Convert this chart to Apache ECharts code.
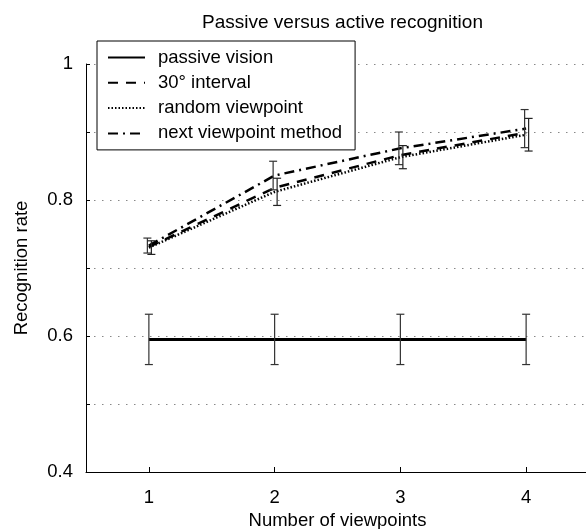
<!DOCTYPE html>
<html>
<head>
<meta charset="utf-8">
<script src="https://cdn.jsdelivr.net/npm/echarts@6/dist/echarts.min.js"></script>
<style>
html,body{margin:0;padding:0;background:#fff;}
#chart{width:586px;height:529px;}
</style>
</head>
<body>
<div id="chart"></div>
<script>
// ---- data ----
var viewpoints = [1, 2, 3, 4];
var passiveVision = [0.595, 0.595, 0.595, 0.595];
var passiveErr = [0.037, 0.037, 0.037, 0.037];
var interval30 = [0.731, 0.818, 0.866, 0.899];
var randomViewpoint = [0.730, 0.812, 0.863, 0.896];
var randomErr = [0.010, 0.020, 0.017, 0.024];
var nextViewpoint = [0.733, 0.836, 0.876, 0.905];
var nextErr = [0.011, 0.021, 0.024, 0.028];
var xTickLabels = [1, 2, 3, 4];
var yTickLabels = [0.4, 0.6, 0.8, 1];
var seriesNames = ['passive vision', '30\u00b0 interval', 'random viewpoint', 'next viewpoint method'];

function pairs(xs, ys) { return xs.map(function (x, i) { return [x, ys[i]]; }); }
function errData(xs, ys, es) { return xs.map(function (x, i) { return [x, ys[i] - es[i], ys[i] + es[i]]; }); }

function errorBarSeries(data, dx, color) {
  return {
    type: 'custom',
    silent: true,
    z: 5,
    data: data,
    renderItem: function (params, api) {
      var lo = api.coord([api.value(0), api.value(1)]);
      var hi = api.coord([api.value(0), api.value(2)]);
      var x = lo[0] + dx;
      var cap = 4;
      var st = { stroke: color, lineWidth: 1.2 };
      return {
        type: 'group',
        children: [
          { type: 'line', shape: { x1: x, y1: lo[1], x2: x, y2: hi[1] }, style: st },
          { type: 'line', shape: { x1: x - cap, y1: lo[1], x2: x + cap, y2: lo[1] }, style: st },
          { type: 'line', shape: { x1: x - cap, y1: hi[1], x2: x + cap, y2: hi[1] }, style: st }
        ]
      };
    }
  };
}

var chart = echarts.init(document.getElementById('chart'), null, { renderer: 'canvas' });
var font = 'Liberation Sans, Arial, sans-serif';
var fs = 18.5;
chart.setOption({
  animation: false,
  backgroundColor: '#ffffff',
  textStyle: { fontFamily: font },
  title: {
    text: 'Passive versus active recognition',
    left: 337.5,
    textAlign: 'center',
    top: 8,
    textStyle: { fontFamily: font, fontSize: 19, fontWeight: 'normal', color: '#000' }
  },
  grid: { left: 86, top: 64, width: 503, height: 408, outerBoundsMode: 'none', containLabel: false },
  legend: {
    data: seriesNames,
    orient: 'vertical',
    left: 97,
    top: 41,
    padding: [7, 13, 7, 10],
    itemGap: 6.3,
    itemWidth: 37,
    itemHeight: 18,
    borderColor: '#000',
    borderWidth: 1,
    borderRadius: 0,
    backgroundColor: '#fff',
    itemStyle: { opacity: 0 },
    textStyle: { fontFamily: font, fontSize: fs, lineHeight: 18, color: '#000', padding: [0, 0, 0, 8] },
    inactiveColor: '#000'
  },
  xAxis: {
    type: 'value',
    min: 0.5,
    max: 4.5,
    interval: 0.5,
    name: 'Number of viewpoints',
    nameLocation: 'middle',
    nameGap: 39,
    nameTextStyle: { fontFamily: font, fontSize: fs, color: '#000' },
    axisLine: { show: true, lineStyle: { color: '#000', width: 1 } },
    axisTick: { show: true, inside: true, length: 5, customValues: xTickLabels, lineStyle: { color: '#000' } },
    axisLabel: { customValues: xTickLabels, fontFamily: font, fontSize: fs, color: '#000', margin: 16 },
    splitLine: { show: false }
  },
  yAxis: {
    type: 'value',
    min: 0.4,
    max: 1,
    interval: 0.1,
    name: 'Recognition rate',
    nameLocation: 'middle',
    nameGap: 55,
    nameTextStyle: { fontFamily: font, fontSize: fs, color: '#000' },
    axisLine: { show: true, lineStyle: { color: '#000', width: 1 } },
    axisTick: { show: true, inside: true, length: 4, lineStyle: { color: '#000' } },
    axisLabel: {
      customValues: yTickLabels,
      fontFamily: font, fontSize: fs, color: '#000', margin: 13,
      formatter: function (v) { return Math.abs(v - 1) < 1e-9 ? '1' : v.toFixed(1); }
    },
    splitLine: { show: true, lineStyle: { color: '#888', width: 1, type: [1.5, 6.5] } }
  },
  series: [
    {
      name: seriesNames[0], type: 'line', data: pairs(viewpoints, passiveVision),
      symbol: 'none', color: '#000', z: 4,
      lineStyle: { color: '#000', width: 3, type: 'solid' }
    },
    {
      name: seriesNames[1], type: 'line', data: pairs(viewpoints, interval30),
      symbol: 'none', color: '#000', z: 4,
      lineStyle: { color: '#000', width: 2.5, type: [10, 8] }
    },
    {
      name: seriesNames[2], type: 'line', data: pairs(viewpoints, randomViewpoint),
      symbol: 'none', color: '#000', z: 4,
      lineStyle: { color: '#000', width: 2.5, type: [1.5, 2] }
    },
    {
      name: seriesNames[3], type: 'line', data: pairs(viewpoints, nextViewpoint),
      symbol: 'none', color: '#000', z: 4,
      lineStyle: { color: '#000', width: 2.5, type: [10, 5, 2, 5] }
    },
    errorBarSeries(errData(viewpoints, passiveVision, passiveErr), 0, '#333'),
    errorBarSeries(errData(viewpoints, nextViewpoint, nextErr), -1.5, '#333'),
    errorBarSeries(errData(viewpoints, randomViewpoint, randomErr), 2.5, '#222')
  ]
});
</script>
</body>
</html>
